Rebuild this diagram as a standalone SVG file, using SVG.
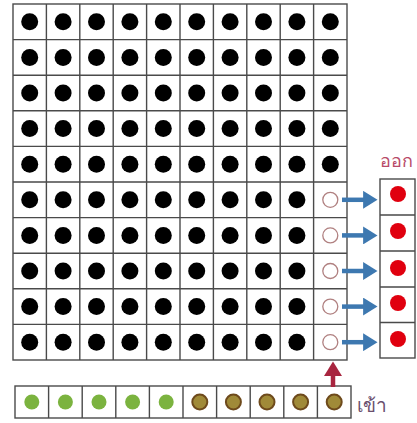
<svg xmlns="http://www.w3.org/2000/svg" width="417" height="423" viewBox="0 0 417 423">
<defs>
<style>
.cell{fill:#fff;stroke:#4a4a4a;stroke-width:1.4}
.blk{fill:#000}
.hol{fill:#fff;stroke:#b08080;stroke-width:1.3}
.red{fill:#e0000f}
.grn{fill:#7bb33f}
.brn{fill:#a08a38;stroke:#6e4a1c;stroke-width:2}
.blue{stroke:#3d78b0;stroke-width:4.5;fill:none}
.redarr{stroke:#a8253f;stroke-width:4.5;fill:none}
.lbl{font-family:"Noto Sans","DejaVu Sans",sans-serif}
</style>
<marker id="hb" markerWidth="4" markerHeight="4" refX="0.2" refY="2" orient="auto" markerUnits="strokeWidth" viewBox="0 0 4 4"><path d="M0,0 L3.2,2 L0,4 Z" fill="#3d78b0"/></marker>
<marker id="hr" markerWidth="4" markerHeight="4" refX="0.2" refY="2" orient="auto" markerUnits="strokeWidth" viewBox="0 0 4 4"><path d="M0,0 L3.2,2 L0,4 Z" fill="#a8253f"/></marker>
</defs>
<rect width="417" height="423" fill="#fff"/>
<g id="grid">
<rect x="13" y="4" width="334" height="356" class="cell"/>
<path d="M46.4,4V360M79.8,4V360M113.2,4V360M146.6,4V360M180,4V360M213.4,4V360M246.8,4V360M280.2,4V360M313.6,4V360M13,39.6H347M13,75.2H347M13,110.8H347M13,146.4H347M13,182H347M13,217.6H347M13,253.2H347M13,288.8H347M13,324.4H347" stroke="#4a4a4a" stroke-width="1.4" fill="none"/>
<g class="blk">
<circle cx="29.7" cy="21.8" r="8.5"/><circle cx="63.1" cy="21.8" r="8.5"/><circle cx="96.5" cy="21.8" r="8.5"/><circle cx="129.9" cy="21.8" r="8.5"/><circle cx="163.3" cy="21.8" r="8.5"/><circle cx="196.7" cy="21.8" r="8.5"/><circle cx="230.1" cy="21.8" r="8.5"/><circle cx="263.5" cy="21.8" r="8.5"/><circle cx="296.9" cy="21.8" r="8.5"/><circle cx="330.3" cy="21.8" r="8.5"/>
<circle cx="29.7" cy="57.4" r="8.5"/><circle cx="63.1" cy="57.4" r="8.5"/><circle cx="96.5" cy="57.4" r="8.5"/><circle cx="129.9" cy="57.4" r="8.5"/><circle cx="163.3" cy="57.4" r="8.5"/><circle cx="196.7" cy="57.4" r="8.5"/><circle cx="230.1" cy="57.4" r="8.5"/><circle cx="263.5" cy="57.4" r="8.5"/><circle cx="296.9" cy="57.4" r="8.5"/><circle cx="330.3" cy="57.4" r="8.5"/>
<circle cx="29.7" cy="93" r="8.5"/><circle cx="63.1" cy="93" r="8.5"/><circle cx="96.5" cy="93" r="8.5"/><circle cx="129.9" cy="93" r="8.5"/><circle cx="163.3" cy="93" r="8.5"/><circle cx="196.7" cy="93" r="8.5"/><circle cx="230.1" cy="93" r="8.5"/><circle cx="263.5" cy="93" r="8.5"/><circle cx="296.9" cy="93" r="8.5"/><circle cx="330.3" cy="93" r="8.5"/>
<circle cx="29.7" cy="128.6" r="8.5"/><circle cx="63.1" cy="128.6" r="8.5"/><circle cx="96.5" cy="128.6" r="8.5"/><circle cx="129.9" cy="128.6" r="8.5"/><circle cx="163.3" cy="128.6" r="8.5"/><circle cx="196.7" cy="128.6" r="8.5"/><circle cx="230.1" cy="128.6" r="8.5"/><circle cx="263.5" cy="128.6" r="8.5"/><circle cx="296.9" cy="128.6" r="8.5"/><circle cx="330.3" cy="128.6" r="8.5"/>
<circle cx="29.7" cy="164.2" r="8.5"/><circle cx="63.1" cy="164.2" r="8.5"/><circle cx="96.5" cy="164.2" r="8.5"/><circle cx="129.9" cy="164.2" r="8.5"/><circle cx="163.3" cy="164.2" r="8.5"/><circle cx="196.7" cy="164.2" r="8.5"/><circle cx="230.1" cy="164.2" r="8.5"/><circle cx="263.5" cy="164.2" r="8.5"/><circle cx="296.9" cy="164.2" r="8.5"/><circle cx="330.3" cy="164.2" r="8.5"/>
<circle cx="29.7" cy="199.8" r="8.5"/><circle cx="63.1" cy="199.8" r="8.5"/><circle cx="96.5" cy="199.8" r="8.5"/><circle cx="129.9" cy="199.8" r="8.5"/><circle cx="163.3" cy="199.8" r="8.5"/><circle cx="196.7" cy="199.8" r="8.5"/><circle cx="230.1" cy="199.8" r="8.5"/><circle cx="263.5" cy="199.8" r="8.5"/><circle cx="296.9" cy="199.8" r="8.5"/>
<circle cx="29.7" cy="235.4" r="8.5"/><circle cx="63.1" cy="235.4" r="8.5"/><circle cx="96.5" cy="235.4" r="8.5"/><circle cx="129.9" cy="235.4" r="8.5"/><circle cx="163.3" cy="235.4" r="8.5"/><circle cx="196.7" cy="235.4" r="8.5"/><circle cx="230.1" cy="235.4" r="8.5"/><circle cx="263.5" cy="235.4" r="8.5"/><circle cx="296.9" cy="235.4" r="8.5"/>
<circle cx="29.7" cy="271" r="8.5"/><circle cx="63.1" cy="271" r="8.5"/><circle cx="96.5" cy="271" r="8.5"/><circle cx="129.9" cy="271" r="8.5"/><circle cx="163.3" cy="271" r="8.5"/><circle cx="196.7" cy="271" r="8.5"/><circle cx="230.1" cy="271" r="8.5"/><circle cx="263.5" cy="271" r="8.5"/><circle cx="296.9" cy="271" r="8.5"/>
<circle cx="29.7" cy="306.6" r="8.5"/><circle cx="63.1" cy="306.6" r="8.5"/><circle cx="96.5" cy="306.6" r="8.5"/><circle cx="129.9" cy="306.6" r="8.5"/><circle cx="163.3" cy="306.6" r="8.5"/><circle cx="196.7" cy="306.6" r="8.5"/><circle cx="230.1" cy="306.6" r="8.5"/><circle cx="263.5" cy="306.6" r="8.5"/><circle cx="296.9" cy="306.6" r="8.5"/>
<circle cx="29.7" cy="342.2" r="8.5"/><circle cx="63.1" cy="342.2" r="8.5"/><circle cx="96.5" cy="342.2" r="8.5"/><circle cx="129.9" cy="342.2" r="8.5"/><circle cx="163.3" cy="342.2" r="8.5"/><circle cx="196.7" cy="342.2" r="8.5"/><circle cx="230.1" cy="342.2" r="8.5"/><circle cx="263.5" cy="342.2" r="8.5"/><circle cx="296.9" cy="342.2" r="8.5"/>
</g>
<g class="hol">
<circle cx="330.3" cy="199.8" r="7.5"/><circle cx="330.3" cy="235.4" r="7.5"/><circle cx="330.3" cy="271" r="7.5"/><circle cx="330.3" cy="306.6" r="7.5"/><circle cx="330.3" cy="342.2" r="7.5"/>
</g>
</g>
<g id="output">
<rect x="380" y="179" width="35" height="179" class="cell"/>
<path d="M380,215H415M380,251H415M380,287H415M380,322.5H415" stroke="#4a4a4a" stroke-width="1.4"/>
<g class="red">
<circle cx="398" cy="194" r="8"/><circle cx="398" cy="231" r="8"/><circle cx="398" cy="268" r="8"/><circle cx="398" cy="303" r="8"/><circle cx="398" cy="339" r="8"/>
</g>
<text x="380" y="167" class="lbl" font-size="18" fill="#b84a68">ออก</text>
</g>
<g id="input">
<rect x="15" y="386" width="336" height="32" class="cell"/>
<path d="M48.6,386V418M82.2,386V418M115.8,386V418M149.4,386V418M183,386V418M216.6,386V418M250.2,386V418M283.8,386V418M317.4,386V418" stroke="#4a4a4a" stroke-width="1.4"/>
<g class="grn">
<circle cx="31.8" cy="402" r="7.5"/><circle cx="65.4" cy="402" r="7.5"/><circle cx="99" cy="402" r="7.5"/><circle cx="132.6" cy="402" r="7.5"/><circle cx="166.2" cy="402" r="7.5"/>
</g>
<g class="brn">
<circle cx="199.8" cy="402" r="7.5"/><circle cx="233.4" cy="402" r="7.5"/><circle cx="267" cy="402" r="7.5"/><circle cx="300.6" cy="402" r="7.5"/><circle cx="334.2" cy="402" r="7.5"/>
</g>
<text x="357" y="412" class="lbl" font-size="19" fill="#6a4f6e">เข้า</text>
</g>
<g id="connectors">
<path class="blue" marker-end="url(#hb)" d="M342,199.8H364"/>
<path class="blue" marker-end="url(#hb)" d="M342,235.4H364"/>
<path class="blue" marker-end="url(#hb)" d="M342,271H364"/>
<path class="blue" marker-end="url(#hb)" d="M342,306.6H364"/>
<path class="blue" marker-end="url(#hb)" d="M342,342.2H364"/>
<path class="redarr" marker-end="url(#hr)" d="M333,387V375"/>
</g>
</svg>
